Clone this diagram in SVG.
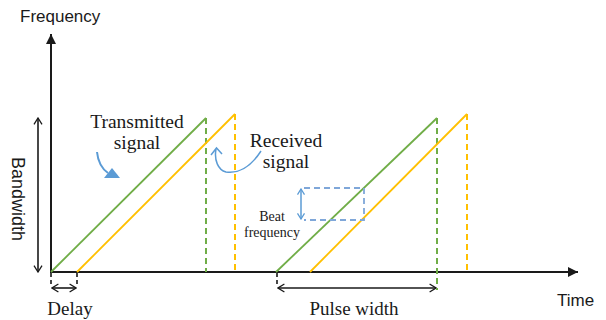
<svg xmlns="http://www.w3.org/2000/svg" width="606" height="320" viewBox="0 0 606 320">
<defs>
<marker id="tri" viewBox="0 0 10 10" refX="10" refY="5" markerWidth="10" markerHeight="10" markerUnits="userSpaceOnUse" orient="auto">
<path d="M0,0 L10,5 L0,10 Z" fill="#1a1a1a"/>
</marker>
<marker id="open" viewBox="0 0 10 12" refX="9" refY="6" markerWidth="8" markerHeight="11" markerUnits="userSpaceOnUse" orient="auto-start-reverse">
<path d="M1,1 L9,6 L1,11" fill="none" stroke="#1a1a1a" stroke-width="1.6"/>
</marker>
<marker id="openb" viewBox="0 0 10 12" refX="9" refY="6" markerWidth="7" markerHeight="10" markerUnits="userSpaceOnUse" orient="auto-start-reverse">
<path d="M1,1 L9,6 L1,11" fill="none" stroke="#5b9bd5" stroke-width="1.8"/>
</marker>
</defs>
<style>
.ax{stroke:#1a1a1a;stroke-width:2;fill:none}
.dim{stroke:#1a1a1a;stroke-width:1.6;fill:none}
.tick{stroke:#1a1a1a;stroke-width:1.6;stroke-dasharray:4 3;fill:none}
.g{stroke:#70ad47;stroke-width:1.8;fill:none}
.y{stroke:#ffc000;stroke-width:1.8;fill:none}
.gd{stroke:#70ad47;stroke-width:2;stroke-dasharray:6 4;fill:none}
.yd{stroke:#ffc000;stroke-width:2;stroke-dasharray:6 4;fill:none}
.bl{stroke:#5b9bd5;stroke-width:1.5;fill:none}
.bd{stroke:#7fa7d9;stroke-width:1.8;stroke-dasharray:6 4;fill:none}
.sans{font-family:"Liberation Sans",Arial,sans-serif;fill:#1a1a1a}
.serif{font-family:"Liberation Serif","Times New Roman",serif;fill:#1a1a1a}
</style>

<g id="connectors">
<line class="ax" x1="51" y1="273" x2="51" y2="34" marker-end="url(#tri)"/>
<line class="ax" x1="50" y1="272" x2="578" y2="272" marker-end="url(#tri)"/>
<line class="dim" x1="38" y1="118" x2="38" y2="272" marker-start="url(#open)" marker-end="url(#open)"/>
<line class="tick" x1="51" y1="273" x2="51" y2="284"/>
<line class="tick" x1="77" y1="273" x2="77" y2="284"/>
<line class="dim" x1="52" y1="288" x2="76" y2="288" marker-start="url(#open)" marker-end="url(#open)"/>
<line class="tick" x1="277" y1="273" x2="277" y2="286"/>
<line class="dim" x1="278" y1="288" x2="436" y2="288" marker-start="url(#open)" marker-end="url(#open)"/>
<line class="g" x1="51" y1="272" x2="206" y2="118"/>
<line class="gd" x1="206" y1="118" x2="206" y2="272"/>
<line class="y" x1="77" y1="272" x2="235" y2="114"/>
<line class="yd" x1="235" y1="114" x2="235" y2="272"/>
<line class="g" x1="276" y1="272" x2="437" y2="118"/>
<line class="gd" x1="437" y1="118" x2="437" y2="290"/>
<line class="y" x1="310" y1="272" x2="467" y2="114"/>
<line class="yd" x1="467" y1="114" x2="467" y2="272"/>
<polyline class="bd" points="304,188 364,188 364,220 304,220"/>
<line class="bl" x1="301" y1="189" x2="301" y2="219" stroke-width="2" marker-start="url(#openb)" marker-end="url(#openb)"/>
<path d="M97,152 C98,162 101,168 108,173" stroke="#5b9bd5" stroke-width="2" fill="none"/>
<path d="M120,178 L104,178 L112,168 Z" fill="#5b9bd5"/>
<path d="M261,151 C252,165 240,174 226,172 C218,170 214,160 216,149" class="bl" stroke-width="1.6"/>
<path d="M211,155 L216.5,148 L222,154" class="bl" stroke-width="1.6"/>
</g>

<g id="labels">
<text class="sans" x="20" y="22" font-size="17">Frequency</text>
<text class="sans" x="0" y="0" font-size="18" text-anchor="middle" transform="translate(12,199) rotate(90)">Bandwidth</text>
<text class="sans" x="557" y="306" font-size="17">Time</text>
<text class="serif" x="70" y="315" font-size="19" text-anchor="middle">Delay</text>
<text class="serif" x="354" y="315" font-size="19" text-anchor="middle">Pulse width</text>
<text class="serif" x="137" y="128" font-size="19.5" text-anchor="middle">Transmitted</text>
<text class="serif" x="137" y="149" font-size="19.5" text-anchor="middle">signal</text>
<text class="serif" x="286" y="147" font-size="19.5" text-anchor="middle">Received</text>
<text class="serif" x="286" y="168" font-size="19.5" text-anchor="middle">signal</text>
<text class="serif" x="272" y="221" font-size="14" text-anchor="middle">Beat</text>
<text class="serif" x="272" y="237" font-size="14" text-anchor="middle">frequency</text>
</g>
</svg>
